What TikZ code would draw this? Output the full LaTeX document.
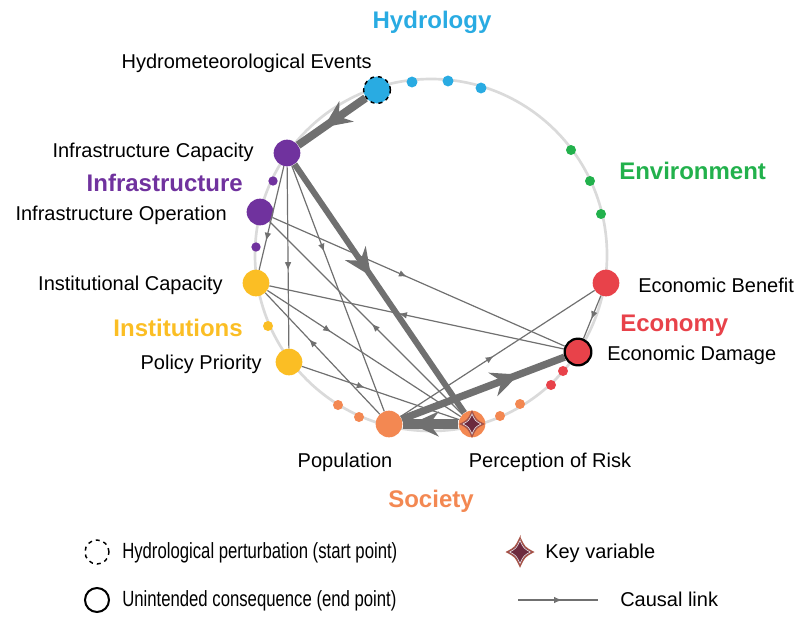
\documentclass[tikz,border=0pt]{standalone}
\usepackage{fontspec}
\setmainfont{Liberation Sans}
\newfontfamily\narrowfont[FakeStretch=0.76]{Liberation Sans}
\usetikzlibrary{arrows.meta,decorations.markings}

\definecolor{hydro}{RGB}{41,171,226}
\definecolor{envir}{RGB}{34,177,76}
\definecolor{infra}{RGB}{112,50,158}
\definecolor{instit}{RGB}{251,190,36}
\definecolor{soc}{RGB}{243,136,82}
\definecolor{econ}{RGB}{232,66,74}
\definecolor{keyvar}{RGB}{108,42,62}
\definecolor{linkgray}{RGB}{112,112,112}
\definecolor{ringgray}{RGB}{218,218,218}

\tikzset{
  var/.style={circle, fill=#1, minimum size=20pt, inner sep=0pt},
  dot/.style={circle, fill=#1, minimum size=7.5pt, inner sep=0pt},
  lbl/.style={font=\fontsize{15}{18}\selectfont, inner sep=0pt},
  legend/.style={font=\narrowfont\fontsize{16.5}{19}\selectfont, inner sep=0pt},
  group/.style={font=\fontsize{18}{21}\selectfont\bfseries, text=#1, inner sep=0pt},
  link/.style={draw=linkgray, line width=0.9pt, postaction={decorate},
    decoration={markings, mark=at position #1 with {\arrow{Latex[length=6pt,width=5pt]}}}},
  link/.default=0.5,
  flow/.style={draw=linkgray, line width=5.5pt, postaction={decorate},
    decoration={markings, mark=at position #1 with {\arrow{Stealth[length=21pt,width=19pt,inset=7pt,line width=0pt]}}}},
  flow/.default=0.5,
  keystar/.pic={
    \fill[keyvar, draw=keyvar!55!soc, line width=0.9pt]
      (0,-12.5) .. controls (4,-4) .. (11.5,0) .. controls (4,4) .. (0,12.5)
      .. controls (-4,4) .. (-11.5,0) .. controls (-4,-4) .. cycle;
    \draw[white!85!keyvar, line width=0.5pt]
      (0,-10) .. controls (3.2,-3.2) .. (9,0) .. controls (3.2,3.2) .. (0,10)
      .. controls (-3.2,3.2) .. (-9,0) .. controls (-3.2,-3.2) .. cycle;
  }
}

\begin{document}
\begin{tikzpicture}[x=0.75pt, y=-0.75pt]
  \useasboundingbox (0,0) rectangle (798,617);

  % ring of variables
  \coordinate (hub) at (431,255);
  \draw[ringgray, line width=2pt] (hub) circle[radius=132pt];

  % small dots along the ring
  \foreach \p [count=\i] in {(412,82),(448,81),(481,88)}
    \node[dot=hydro, minimum size=8.2pt] (hyd\i) at \p {};
  \foreach \p [count=\i] in {(571,150),(590,181),(601,214)}
    \node[dot=envir] (env\i) at \p {};
  \foreach \p [count=\i] in {(273,181),(256,247)}
    \node[dot=infra, minimum size=7pt] (inf\i) at \p {};
  \node[dot=instit] (ins1) at (268,326) {};
  \foreach \p [count=\i] in {(338,405),(359,417),(500,416),(520,404)}
    \node[dot=soc] (soc\i) at \p {};
  \foreach \p [count=\i] in {(551,385),(563,371)}
    \node[dot=econ] (eco\i) at \p {};

  % main variables
  \node[var=hydro, draw=black, dashed, line width=1.1pt] (hme) at (377,90) {};
  \node[var=infra] (infcap) at (287,153) {};
  \node[var=infra] (infop) at (260,212) {};
  \node[var=instit] (instcap) at (256,283) {};
  \node[var=instit] (policy) at (289,362) {};
  \node[var=soc] (pop) at (389,424) {};
  \node[var=soc] (risk) at (472,424) {};
  \node[var=econ, draw=black, line width=1.7pt] (damage) at (578,352) {};
  \node[var=econ] (benefit) at (606,283) {};
  \pic at (risk) {keystar};

  % main pathway
  \draw[flow=0.62, line width=6pt] (hme) -- (infcap);
  \draw[flow=0.45, line width=4.5pt] (infcap) -- (risk);
  \draw[flow=0.85, line width=7pt] (risk) -- (pop);
  \draw[flow=0.72] (pop) -- (damage);

  % other causal links
  \draw[link=0.72] (infcap) -- (instcap);
  \draw[link=0.57] (infcap) -- (policy);
  \draw[link=0.35] (infcap) -- (pop);
  \draw[link=0.46] (infop) -- (damage);
  \draw[link=0.47] (risk) -- (infop);
  \draw[link=0.56] (damage) -- (instcap);
  \draw[link=0.33] (instcap) -- (risk);
  \draw[link=0.62] (pop) -- (instcap);
  \draw[link=0.4] (policy) -- (risk);
  \draw[link=0.48] (pop) -- (benefit);
  \draw[link=0.55] (benefit) -- (damage);

  % variable names
  \node[lbl, anchor=base east] (hmetxt) at (372,69) {Hydrometeorological Events};
  \node[lbl, anchor=base east] (infcaptxt) at (254,157) {Infrastructure Capacity};
  \node[lbl, anchor=base east] (infoptxt) at (227,220) {Infrastructure Operation};
  \node[lbl, anchor=base east] (instcaptxt) at (223,290) {Institutional Capacity};
  \node[lbl, anchor=base east] (policytxt) at (262,369) {Policy Priority};
  \node[lbl, anchor=base west] (benefittxt) at (638,292) {Economic Benefit};
  \node[lbl, anchor=base west] (damagetxt) at (607,360) {Economic Damage};
  \node[lbl, anchor=base] (poptxt) at (345,467) {Population};
  \node[lbl, anchor=base] (risktxt) at (550,467) {Perception of Risk};

  % sectors
  \node[group=hydro, anchor=base] (hydrology) at (432,29) {Hydrology};
  \node[group=envir, anchor=base west] (environment) at (619,179) {Environment};
  \node[group=infra, anchor=base east] (infrastructure) at (243,191) {Infrastructure};
  \node[group=instit, anchor=base east] (institutions) at (243,336) {Institutions};
  \node[group=econ, anchor=base west] (economy) at (620,331) {Economy};
  \node[group=soc, anchor=base] (society) at (431,507) {Society};

  % legend
  \node[circle, draw=black, dashed, line width=1.1pt, minimum size=18pt] (lgstart) at (97,552) {};
  \node[legend, anchor=base west] (lgstarttxt) at (122,558) {Hydrological perturbation (start point)};
  \node[circle, draw=black, line width=1.5pt, minimum size=18pt] (lgend) at (97,600) {};
  \node[legend, anchor=base west] (lgendtxt) at (122,606) {Unintended consequence (end point)};
  \pic[scale=1.15] at (520,552) {keystar};
  \node[lbl, anchor=base west] (lgkeytxt) at (545,558) {Key variable};
  \coordinate (lgA) at (518,600);
  \coordinate (lgB) at (598,600);
  \draw[link=0.55] (lgA) -- (lgB);
  \node[lbl, anchor=base west] (lglinktxt) at (620,606) {Causal link};
\end{tikzpicture}
\end{document}
